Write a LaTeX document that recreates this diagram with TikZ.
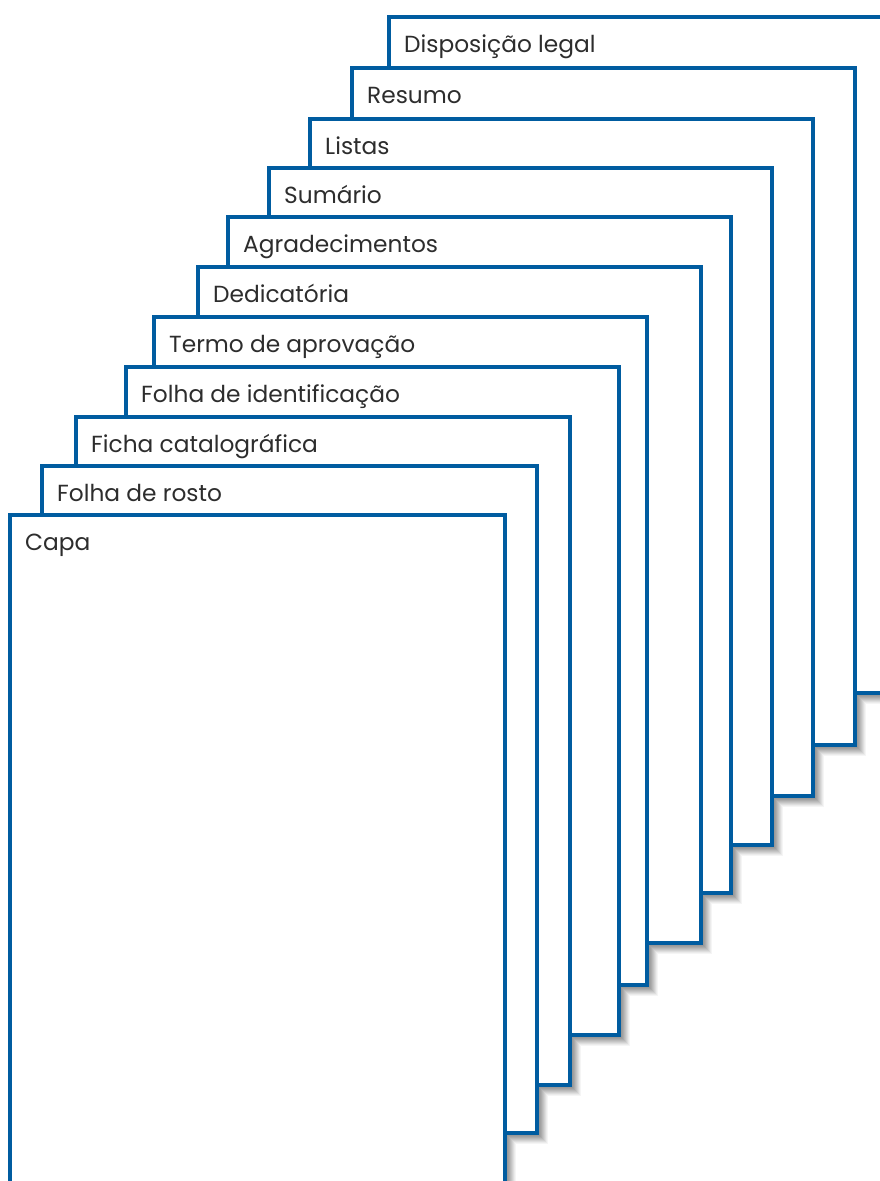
\documentclass[tikz,border=0pt]{standalone}
\usepackage{fontspec}
\setmainfont{Poppins}
\usetikzlibrary{calc,backgrounds}
\definecolor{pageblue}{RGB}{0,92,160}
\definecolor{labelgray}{RGB}{45,45,45}
\tikzset{
  sheet/.style={draw=pageblue, line width=3.4pt, fill=white, rectangle,
    inner sep=0pt, outer sep=0pt, anchor=north west},
  sheetlabel/.style={anchor=base west, inner sep=0pt, text=labelgray,
    font=\fontsize{23.3}{27}\selectfont},
}
\newcommand{\sheetpage}[6]{%
  \node[sheet, minimum width=#4pt, minimum height=#5pt] (#1) at (#2,#3) {};
  \node[sheetlabel] (#1-t) at ($(#1.north west)+(15,35.5)$) {#6};
}
\begin{document}
\begin{tikzpicture}[x=1pt,y=-1pt]
\clip (0,0) rectangle (880,1181);
\sheetpage{disp}{389}{17}{503}{676}{Disposição legal}
\sheetpage{resumo}{352}{68}{503}{677}{Resumo}
\sheetpage{listas}{310}{119}{503}{677}{Listas}
\sheetpage{sumario}{269}{168}{503}{677}{Sumário}
\sheetpage{agrad}{228}{217}{503}{676}{Agradecimentos}
\sheetpage{dedic}{198}{267}{503}{676}{Dedicatória}
\sheetpage{termo}{154}{317}{493}{668}{Termo de aprovação}
\sheetpage{ident}{126}{367}{493}{668}{Folha de identificação}
\sheetpage{ficha}{76}{417}{494}{668}{Ficha catalográfica}
\sheetpage{rosto}{42}{466}{495}{667}{Folha de rosto}
\sheetpage{capa}{10}{515}{495}{690}{Capa}
\begin{scope}[on background layer]
  \fill[white] (0,0) rectangle (880,1181);
  \foreach \r/\c in {6/4,5/8,4/13,3/18,2/23,1/28,0/33,-1/37,-2/40,-3/42}{
    \foreach \n in {disp,resumo,listas,sumario,agrad,dedic,termo,ident,ficha,rosto,capa}{
      \fill[black!\c] ($(\n.north west)+(5-\r,5-\r)$) rectangle ($(\n.south east)+(5+\r,5+\r)$);
    }
  }
\end{scope}
\end{tikzpicture}
\end{document}
